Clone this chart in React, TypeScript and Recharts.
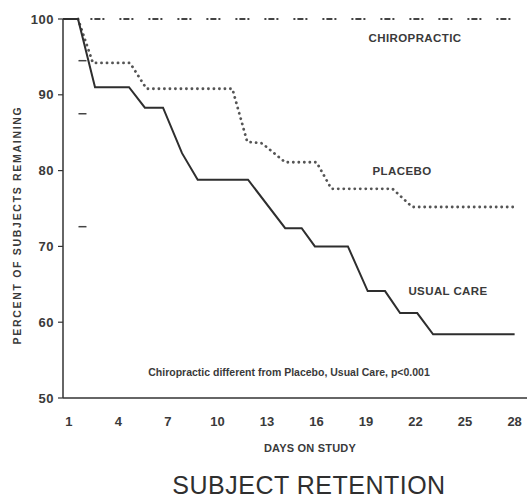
import React from 'react'
import { ComposedChart, Line, Scatter, XAxis, YAxis } from 'recharts'

// percent of subjects remaining
const usualDays = [0.64, 1.55, 2.58, 4.64, 5.6, 6.7, 7.85, 8.8, 11.85, 14.1, 15.1, 15.9, 17.9, 19.1, 20.15, 21.06, 22.1, 23.06, 28.0]
const usualPct = [100, 100, 91, 91, 88.3, 88.3, 82.3, 78.8, 78.8, 72.4, 72.4, 70, 70, 64.1, 64.1, 61.2, 61.2, 58.4, 58.4]

const placeboDays = [1.55, 2.45, 4.7, 5.7, 10.9, 11.8, 12.7, 14.1, 16.0, 16.9, 20.6, 21.8, 27.9]
const placeboPct = [100, 94.2, 94.2, 90.8, 90.8, 83.8, 83.6, 81.1, 81.1, 77.6, 77.6, 75.2, 75.2]

const chiroDays = [2.3, 28.0]
const chiroPct = [100, 100]

// small dash marks near the y axis
const markDays = [1.82, 1.82, 1.82]
const markPct = [94.5, 87.5, 72.6]

const xTicks = [1, 4, 7, 10, 13, 16, 19, 22, 25, 28]
const yTicks = [50, 60, 70, 80, 90, 100]

const toRows = (days: number[], pct: number[]) => days.map((d, i) => ({ day: d, pct: pct[i] }))

const FONT = '"Liberation Sans", Arial, Helvetica, sans-serif'
const INK = '#3a3a3a'

const XTick = (props: any) => {
  const { x, y, payload } = props
  return (
    <text x={x} y={y} dy="0.71em" textAnchor="middle" fontFamily={FONT} fontSize={13} fill={INK} fontWeight={600}>
      {payload.value}
    </text>
  )
}

const YTick = (props: any) => {
  const { x, y, payload } = props
  return (
    <text x={x} y={y} dy="0.36em" textAnchor="end" fontFamily={FONT} fontSize={13} fill={INK} fontWeight={600} letterSpacing={0.5}>
      {payload.value}
    </text>
  )
}

const DashMark = (props: any) => {
  const { cx, cy } = props
  return <line x1={cx - 4} x2={cx + 4} y1={cy} y2={cy} stroke="#444" strokeWidth={1.5} />
}

export default function App() {
  const usual = toRows(usualDays, usualPct)
  const placebo = toRows(placeboDays, placeboPct)
  const chiro = toRows(chiroDays, chiroPct)
  const marks = toRows(markDays, markPct)

  return (
    <div style={{ position: 'absolute', left: 0, top: 0, width: 531, height: 501, background: '#fff' }}>
      <ComposedChart width={531} height={501} margin={{ top: 19, right: 4, bottom: 0, left: 0 }}>
        <XAxis
          dataKey="day"
          type="number"
          domain={[0.64, 28.75]}
          ticks={xTicks}
          allowDataOverflow
          height={103}
          tickLine={false}
          tickSize={0}
          tickMargin={19}
          tick={<XTick />}
          axisLine={{ stroke: '#333', strokeWidth: 1.5 }}
        />
        <YAxis
          dataKey="pct"
          type="number"
          domain={[50, 100]}
          ticks={yTicks}
          width={63}
          tickSize={5}
          tickMargin={4}
          tick={<YTick />}
          tickLine={{ stroke: '#333', strokeWidth: 1.2 }}
          axisLine={{ stroke: '#333', strokeWidth: 1.5 }}
        />
        <Line data={chiro} dataKey="pct" type="linear" stroke="#444" strokeWidth={1.8} strokeDasharray="2 2 6 2 2 15" dot={false} isAnimationActive={false} />
        <Line data={placebo} dataKey="pct" type="linear" stroke="#555" strokeWidth={2.8} strokeDasharray="0.1 5.4" strokeLinecap="round" dot={false} isAnimationActive={false} />
        <Line data={usual} dataKey="pct" type="linear" stroke="#2e2e2e" strokeWidth={2} dot={false} isAnimationActive={false} />
        <Scatter data={marks} dataKey="pct" shape={<DashMark />} isAnimationActive={false} />
      </ComposedChart>
      <svg width={531} height={501} style={{ position: 'absolute', left: 0, top: 0, pointerEvents: 'none' }}>
        <g fontFamily={FONT} fill={INK} fontWeight={700}>
          <text x={415} y={38} dy="0.36em" textAnchor="middle" fontSize={11.5} letterSpacing={0.4}>CHIROPRACTIC</text>
          <text x={402} y={171} dy="0.36em" textAnchor="middle" fontSize={11.5} letterSpacing={0.4}>PLACEBO</text>
          <text x={448} y={291} dy="0.36em" textAnchor="middle" fontSize={11.5} letterSpacing={0.4}>USUAL CARE</text>
          <text x={289} y={372} dy="0.36em" textAnchor="middle" fontSize={10.5} fontWeight={600}>
            Chiropractic different from Placebo, Usual Care, p&lt;0.001
          </text>
          <text x={310} y={448} dy="0.36em" textAnchor="middle" fontSize={11} letterSpacing={0.2}>DAYS ON STUDY</text>
          <text x={17} y={225} dy="0.36em" textAnchor="middle" fontSize={10.5} letterSpacing={1.7} transform="rotate(-90 17 225)">
            PERCENT OF SUBJECTS REMAINING
          </text>
        </g>
        <text x={309} y={485} dy="0.36em" textAnchor="middle" fontFamily={FONT} fontSize={25} fill="#2f2f2f" fontWeight={500} letterSpacing={0.5}>
          SUBJECT RETENTION
        </text>
      </svg>
    </div>
  )
}
